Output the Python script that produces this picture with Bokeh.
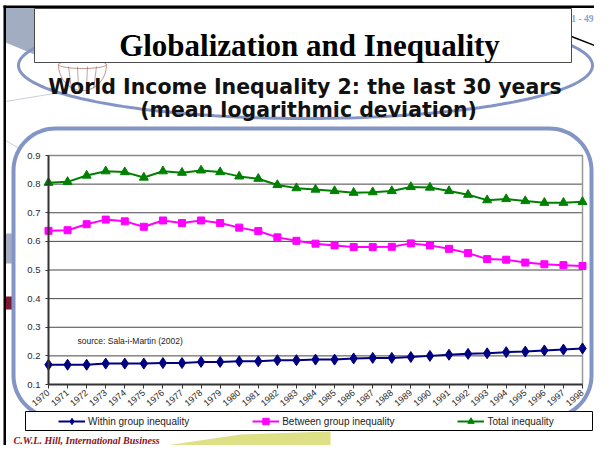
import math
import numpy as np
from bokeh.plotting import figure
from bokeh.models import Range1d, LinearAxis, FixedTicker, Legend, LegendItem
from bokeh.core.properties import value
from bokeh.embed import file_html
from bokeh.resources import INLINE

# ---------------- data ----------------
years = list(range(1970, 1999))
within = [0.169, 0.169, 0.169, 0.173, 0.173, 0.173, 0.175, 0.175, 0.179, 0.179,
          0.181, 0.181, 0.185, 0.185, 0.187, 0.187, 0.191, 0.193, 0.193, 0.196,
          0.200, 0.204, 0.207, 0.209, 0.213, 0.215, 0.219, 0.222, 0.226]
between = [0.637, 0.639, 0.660, 0.676, 0.670, 0.651, 0.673, 0.664, 0.673, 0.664,
           0.648, 0.636, 0.614, 0.602, 0.592, 0.586, 0.580, 0.580, 0.581, 0.593,
           0.586, 0.574, 0.559, 0.538, 0.536, 0.526, 0.520, 0.517, 0.514]
total = [0.805, 0.808, 0.830, 0.845, 0.842, 0.823, 0.845, 0.840, 0.848, 0.842,
         0.827, 0.819, 0.797, 0.786, 0.781, 0.776, 0.770, 0.772, 0.776, 0.790,
         0.788, 0.776, 0.763, 0.744, 0.748, 0.741, 0.735, 0.735, 0.738]
y_ticks = [0.1, 0.2, 0.3, 0.4, 0.5, 0.6, 0.7, 0.8, 0.9]
series_labels = ["Within group inequality", "Between group inequality", "Total inequality"]
title_text = "Globalization and Inequality"
subtitle_lines = ["World Income Inequality 2:  the last 30 years", "(mean logarithmic deviation)"]
source_text = "source: Sala-i-Martin (2002)"
footer_text = "C.W.L. Hill,   International Business"
page_text = "1 - 49"

# ---------------- layout (pixels, top-left origin) ----------------
W, H = 594, 445
X_FIRST, X_LAST = 48, 582                    # pixel of first / last year
Y_HI, Y_LO = 155, 384                        # pixel of top / bottom tick

kx = (years[-1] - years[0]) / (X_LAST - X_FIRST)
xs = years[0] + (0 - X_FIRST) * kx
xe = years[0] + (W - X_FIRST) * kx
ky = (y_ticks[0] - y_ticks[-1]) / (Y_LO - Y_HI)
ys = y_ticks[-1] + (H - Y_HI) * ky
ye = y_ticks[-1] + (0 - Y_HI) * ky

p = figure(width=W, height=H, output_backend="svg", toolbar_location=None,
           title=None, x_range=Range1d(xs, xe), y_range=Range1d(ys, ye),
           x_axis_location=None, y_axis_location=None, min_border=0,
           outline_line_color=None, background_fill_color="white",
           border_fill_color="white")
for g in p.grid:
    g.visible = False

p.extra_x_ranges = {"px": Range1d(0, W)}
p.extra_y_ranges = {"px": Range1d(H, 0)}
PX = dict(x_range_name="px", y_range_name="px")

FRAME = "#8395C5"

# ---------------- slide background decorations ----------------
p.patch([5, 34, 34, 5], [7, 7, 54, 42], fill_color="#A3ADC1", line_color=None, **PX)
p.line([5, 60], [101, 92], line_color="#C9CFDA", line_width=1, **PX)
p.line([5, 40], [140, 160], line_color="#C9CFDA", line_width=1, **PX)
p.quad(left=5, right=13, top=233, bottom=263, fill_color="#A3ADC1", line_color=None, **PX)
p.quad(left=5, right=12, top=296, bottom=309, fill_color="#7A1A35", line_color=None, **PX)
p.patch([165, 240, 330, 330, 190], [445, 434, 431, 445, 445], fill_color="#D2D65C",
        fill_alpha=0.75, line_color=None, **PX)
p.line([571, 594], [36, 45], line_color="black", line_width=1.5, **PX)

# basket sketch
t = np.linspace(0, 2 * np.pi, 60)
p.line(list(82 + 24 * np.cos(t)), list(64 + 4 * np.sin(t)), line_color="#A0655A",
       line_alpha=0.7, line_width=1, **PX)
tb = np.linspace(0, np.pi, 40)
p.line(list(82 + 24 * np.cos(tb)), list(64 + 26 * np.sin(tb)), line_color="#A0655A",
       line_alpha=0.7, line_width=1, **PX)
for dx in (-14, -5, 5, 14):
    p.line([82 + dx, 82 + dx * 0.8], [66, 88], line_color="#A0655A", line_alpha=0.6,
           line_width=1, **PX)

# rounded rectangle around chart
def rrect(l, t, r, b, rad, n=20):
    px, py = [], []
    for cx, cy, a0, a1 in [(r - rad, t + rad, -90, 0), (r - rad, b - rad, 0, 90),
                           (l + rad, b - rad, 90, 180), (l + rad, t + rad, 180, 270)]:
        a = np.radians(np.linspace(a0, a1, n))
        px += list(cx + rad * np.cos(a))
        py += list(cy + rad * np.sin(a))
    return px, py

rx, ry = rrect(13, 128, 591, 417, 42)
p.patch(rx, ry, fill_color="white", line_color=FRAME, line_width=4, **PX)

# ellipse behind the title
te = np.linspace(0, 2 * np.pi, 240)
p.line(list(305 + 287 * np.cos(te)), list(65 + 53 * np.sin(te)), line_color=FRAME,
       line_width=3, **PX)

# title box
p.quad(left=34, right=571, top=8, bottom=62, fill_color="white", line_color="#4a4a4a",
       line_width=1, **PX)
p.text(x=[309], y=[45], text=[title_text], text_font=value("Liberation Serif"),
       text_font_style="bold", text_font_size="31px", text_align="center",
       text_baseline="alphabetic", text_color="black", **PX)
p.text(x=[308, 308], y=[86, 109], text=subtitle_lines, text_font=value("DejaVu Sans"),
       text_font_style="bold", text_font_size="20.5px", text_align="center",
       text_baseline="alphabetic", text_color="#111111", **PX)
p.text(x=[593], y=[18], text=[page_text], text_font=value("Liberation Serif"),
       text_font_style="bold", text_font_size="9.5px", text_align="right",
       text_baseline="alphabetic", text_color="#8FA0C8", **PX)

# ---------------- chart ----------------
n_t = len(y_ticks)
p.segment(x0=[years[0]] * n_t, x1=[years[-1]] * n_t, y0=y_ticks, y1=y_ticks,
          line_color="#474747", line_width=1)
p.segment(x0=[years[-1]], x1=[years[-1]], y0=[y_ticks[0]], y1=[y_ticks[-1]],
          line_color="#999999", line_width=1.5)
p.segment(x0=[years[0]], x1=[years[-1]], y0=[y_ticks[-1]], y1=[y_ticks[-1]],
          line_color="#8a8a8a", line_width=1.5)

styles = [("#000080", "diamond", 11), ("#FF00FF", "square", 7), ("#008000", "triangle", 9)]
items = []
for lab, vals, (col, mk, sz) in zip(series_labels, [within, between, total], styles):
    lr = p.line(years, vals, line_color=col, line_width=2)
    sr = p.scatter(years, vals, marker=mk, size=sz, fill_color=col, line_color=col)
    items.append(LegendItem(label=lab, renderers=[lr, sr]))

p.text(x=[77], y=[340], text=[source_text], text_font=value("Liberation Sans"),
       text_font_size="8.5px", text_baseline="middle", text_color="#222222", **PX)

yax = LinearAxis(fixed_location=years[0], bounds=(y_ticks[0], y_ticks[-1]),
                 ticker=FixedTicker(ticks=y_ticks))
xax = LinearAxis(fixed_location=y_ticks[0], bounds=(years[0], years[-1]),
                 ticker=FixedTicker(ticks=years), major_label_orientation=0.7)
for ax in (yax, xax):
    ax.axis_line_color = "#333333"
    ax.axis_line_width = 2
    ax.major_tick_line_color = "#333333"
    ax.major_tick_in = 0
    ax.minor_tick_in = 0
    ax.minor_tick_out = 0
    ax.major_label_text_font = "Liberation Sans"
    ax.major_label_text_color = "#2a2a2a"
yax.major_tick_out = 3
yax.major_label_standoff = 5
yax.major_label_text_font_size = "9.5px"
xax.major_tick_out = 4
xax.major_label_standoff = 3
xax.major_label_text_font_size = "9px"
p.add_layout(yax, "left")
p.add_layout(xax, "below")

# legend box and legend
p.quad(left=25, right=592, top=411, bottom=430, fill_color="white", line_color="black",
       line_width=1, **PX)
legend = Legend(items=items, orientation="horizontal", location=(58, 16), spacing=63,
                padding=0, margin=0, glyph_width=27, glyph_height=16, label_height=16,
                label_standoff=3, label_text_font="Liberation Sans",
                label_text_font_size="10px", label_text_color="#222222",
                border_line_color=None, background_fill_alpha=0)
p.add_layout(legend)

# footer
p.text(x=[13], y=[440], text=[footer_text], text_font=value("Liberation Serif"),
       text_font_style="bold italic", text_font_size="10px", text_align="left",
       text_baseline="alphabetic", text_color="#8B1020", **PX)

# slide border
p.quad(left=3, right=5.5, top=5, bottom=H, fill_color="black", line_color=None, **PX)
p.quad(left=3, right=W, top=5, bottom=7.5, fill_color="black", line_color=None, **PX)

open("out.html", "w").write(file_html(p, INLINE))
